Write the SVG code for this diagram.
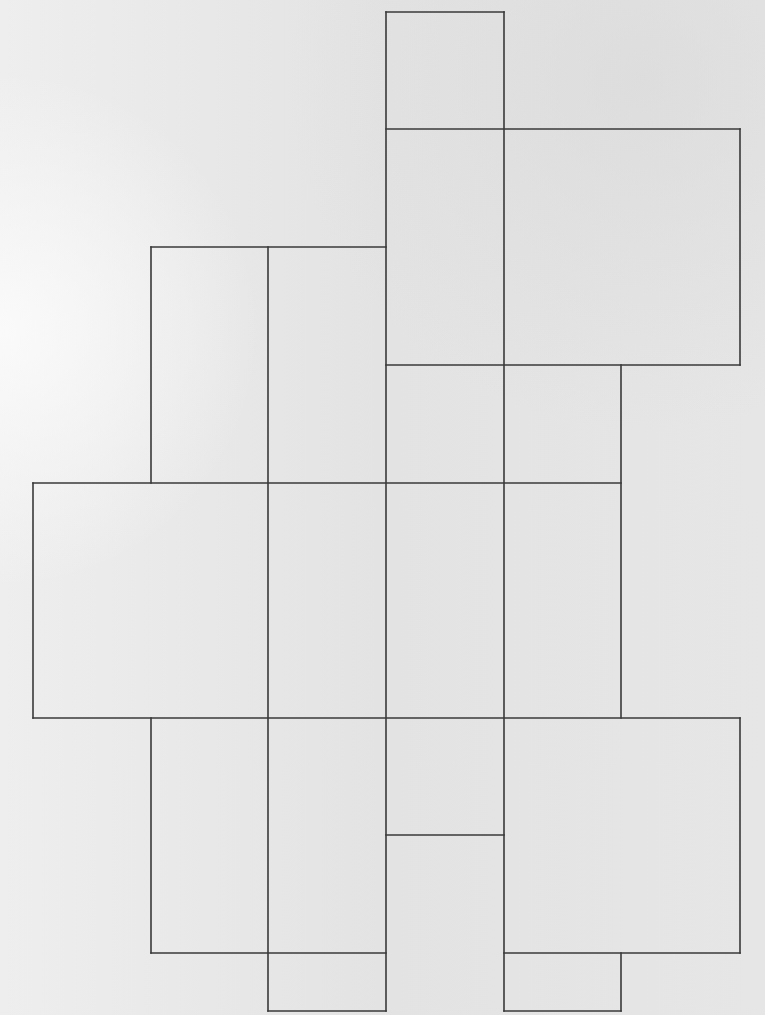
<svg xmlns="http://www.w3.org/2000/svg" width="765" height="1015" viewBox="0 0 765 1015">
<defs>
<linearGradient id="bg" x1="0" y1="0" x2="1" y2="0">
<stop offset="0" stop-color="#eeeeee"/>
<stop offset="0.5" stop-color="#e3e3e3"/>
<stop offset="1" stop-color="#e6e6e6"/>
</linearGradient>
<radialGradient id="glow" cx="0" cy="330" r="260" gradientUnits="userSpaceOnUse">
<stop offset="0" stop-color="#fafafa" stop-opacity="1"/>
<stop offset="1" stop-color="#fafafa" stop-opacity="0"/>
</radialGradient>
<radialGradient id="shade" cx="640" cy="80" r="350" gradientUnits="userSpaceOnUse">
<stop offset="0" stop-color="#d8d8d8" stop-opacity="0.6"/>
<stop offset="1" stop-color="#d8d8d8" stop-opacity="0"/>
</radialGradient>
</defs>
<style>
.ln{fill:none;stroke:#3a3a3a;stroke-width:1.6;stroke-linecap:square}
</style>
<rect width="765" height="1015" fill="url(#bg)"/>
<rect width="765" height="1015" fill="url(#shade)"/>
<rect width="765" height="1015" fill="url(#glow)"/>
<g id="net" class="ln">
<path d="M386 12H504M386 129H740M151 247H386M386 365H740M33 483H621M33 718H740M386 835H504M151 953H386M504 953H740M268 1011H386M504 1011H621"/>
<path d="M33 483V718M151 247V483M151 718V953M268 247V1011M386 12V1011M504 12V1011M621 365V718M621 953V1011M740 129V365M740 718V953"/>
</g>
</svg>
